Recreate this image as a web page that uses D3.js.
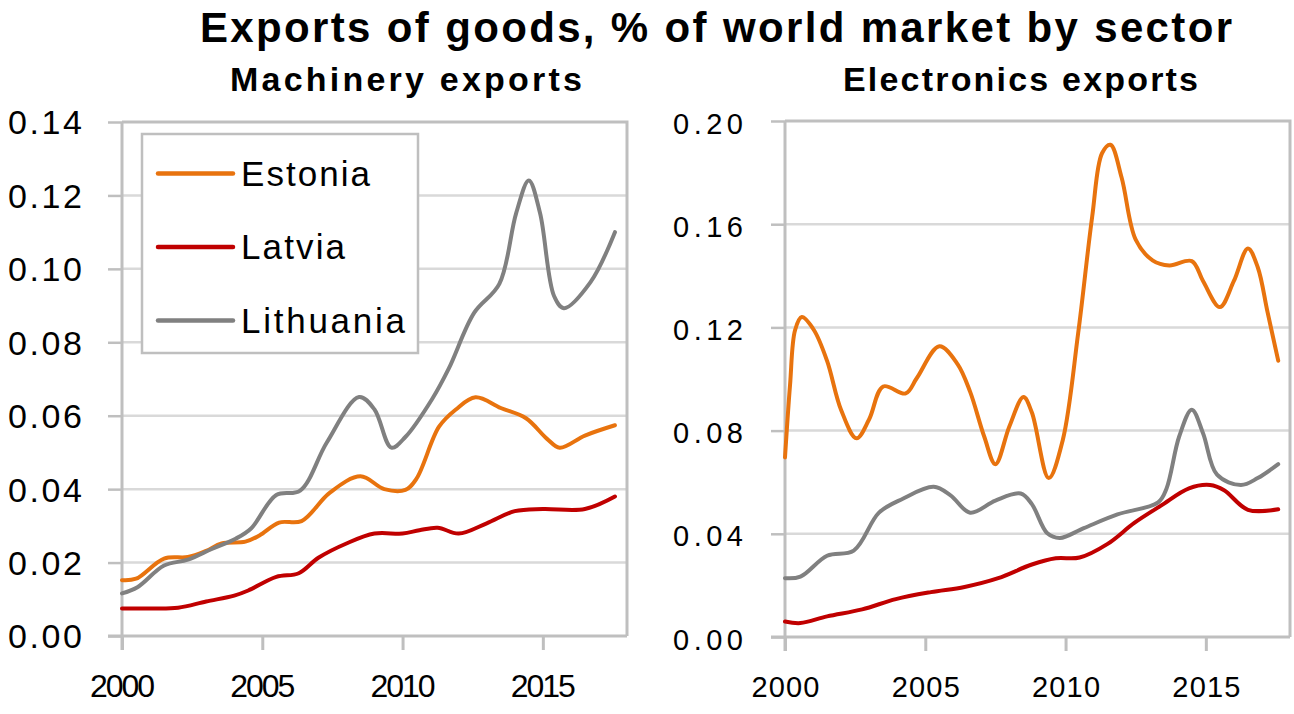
<!DOCTYPE html>
<html>
<head>
<meta charset="utf-8">
<script src="https://cdn.jsdelivr.net/npm/d3@7"></script>
<style>
  html, body { margin: 0; padding: 0; background: #fff; }
  svg { display: block; font-family: "Liberation Sans", Arial, sans-serif; }
</style>
</head>
<body>
<svg id="chart" width="1294" height="714"></svg>
<script>
// ---------------- DATA ----------------
const seriesNames = ["Estonia", "Latvia", "Lithuania"];
const seriesColors = ["#E8730E", "#C00000", "#808080"];

const xTickYears = [2000, 2005, 2010, 2015];
const machineryTicks = [0, 0.02, 0.04, 0.06, 0.08, 0.10, 0.12, 0.14];
const electronicsTicks = [0, 0.04, 0.08, 0.12, 0.16, 0.20];

// Machinery exports, % of world market
const machEstonia = [[2000,0.0152],[2000.5,0.0156],[2001.5,0.0211],[2002.35,0.0215],[2003,0.0232],[2003.55,0.0252],
  [2004.4,0.0257],[2004.9,0.0274],[2005.6,0.0309],[2006.4,0.0313],[2007.4,0.0390],[2008.5,0.0435],[2009.35,0.0400],
  [2010.1,0.0398],[2010.5,0.0429],[2011.3,0.0570],[2011.9,0.0617],[2012.6,0.0650],[2013.5,0.0621],[2014.4,0.0593],
  [2015.15,0.0537],[2015.6,0.0513],[2016.5,0.0546],[2017.57,0.0574]];
const machLatvia = [[2000,0.0075],[2001,0.0075],[2002,0.0077],[2003,0.0094],[2004,0.0110],[2004.5,0.0124],
  [2005.5,0.0161],[2006.3,0.0171],[2007,0.0213],[2008,0.0252],[2009,0.0279],[2010,0.0279],[2010.6,0.0288],
  [2011.25,0.0295],[2012,0.0279],[2013,0.0307],[2014,0.0340],[2015,0.0346],[2016.5,0.0346],[2017.57,0.0380]];
const machLithuania = [[2000,0.0116],[2000.55,0.0133],[2001.5,0.0192],[2002.35,0.0208],[2003.2,0.0237],[2004.05,0.0265],
  [2004.6,0.0293],[2005.5,0.0384],[2006.35,0.0396],[2007.3,0.0527],[2008.45,0.0651],[2009.0,0.0617],[2009.6,0.0513],
  [2010.1,0.0542],[2011.05,0.0645],[2011.65,0.0729],[2012.55,0.0880],[2013.45,0.0959],[2014.05,0.1152],[2014.5,0.1241],
  [2014.9,0.1152],[2015.4,0.0926],[2015.75,0.0893],[2016.7,0.0964],[2017.57,0.1100]];

// Electronics exports, % of world market
const elecEstonia = [[2000,0.0696],[2000.18,0.0977],[2000.36,0.1190],[2000.6,0.1240],[2001.03,0.1190],[2001.5,0.1070],
  [2002.0,0.0880],[2002.55,0.0770],[2003,0.0844],[2003.5,0.0971],[2004.3,0.0944],[2004.7,0.1004],[2005.5,0.1127],
  [2006.15,0.1058],[2006.6,0.0950],[2007.1,0.0777],[2007.5,0.0670],[2008,0.0817],[2008.5,0.0930],[2008.8,0.0870],
  [2009.4,0.0616],[2009.9,0.0763],[2010.45,0.1178],[2010.95,0.1630],[2011.3,0.1875],[2011.6,0.1908],[2012,0.1780],
  [2012.5,0.1540],[2013.1,0.1460],[2013.7,0.1440],[2014.5,0.1457],[2014.9,0.1380],[2015.5,0.1279],[2016,0.1380],
  [2016.5,0.1506],[2016.85,0.1433],[2017.2,0.1259],[2017.58,0.1071]];
const elecLatvia = [[2000,0.0060],[2000.55,0.0054],[2001.5,0.0080],[2002.75,0.0107],[2003.95,0.0147],[2005.2,0.0174],
  [2006.4,0.0194],[2007.6,0.0228],[2008.8,0.0281],[2009.65,0.0305],[2010.5,0.0308],[2011.5,0.0361],[2012.45,0.0442],
  [2013.4,0.0509],[2014.4,0.0576],[2015.15,0.0589],[2015.65,0.0569],[2016.5,0.0493],[2017.58,0.0495]];
const elecLithuania = [[2000,0.0228],[2000.55,0.0234],[2001.5,0.0315],[2002.45,0.0335],[2003.35,0.0482],[2004.2,0.0536],
  [2005.3,0.0582],[2005.9,0.0549],[2006.6,0.0482],[2007.5,0.0529],[2008.4,0.0556],[2008.8,0.0515],[2009.35,0.0402],
  [2009.8,0.0384],[2010.65,0.0422],[2011.85,0.0475],[2013.3,0.0522],[2013.6,0.0576],[2014.05,0.0777],[2014.5,0.0881],
  [2014.9,0.0790],[2015.4,0.0629],[2016.25,0.0589],[2016.85,0.0616],[2017.58,0.0670]];

// ---------------- DRAW ----------------
const svg = d3.select("#chart");
const axisColor = "#BFBFBF";
const gridColor = "#D9D9D9";

svg.append("text").attr("x", 200).attr("y", 42)
  .attr("font-size", 42).attr("font-weight", "bold").attr("fill", "#000")
  .attr("textLength", 1032).attr("lengthAdjust", "spacing")
  .text("Exports of goods, % of world market by sector");

function panel(cfg) {
  const x = d3.scaleLinear().domain([2000, 2018]).range([cfg.left, cfg.right]);
  const y = d3.scaleLinear().domain([0, cfg.yMax]).range([cfg.bottom, cfg.top]);
  const g = svg.append("g");

  // subtitle
  g.append("text").attr("x", cfg.titleX).attr("y", 91)
    .attr("font-size", 34).attr("font-weight", "bold")
    .attr("textLength", cfg.titleLen).attr("lengthAdjust", "spacing")
    .text(cfg.title);

  // gridlines
  g.append("g").selectAll("line").data(cfg.ticks.filter(t => t > 0 && t < cfg.yMax))
    .join("line")
    .attr("x1", cfg.left).attr("x2", cfg.right)
    .attr("y1", d => y(d)).attr("y2", d => y(d))
    .attr("stroke", gridColor).attr("stroke-width", 2.5);

  // y axis
  const yAxis = d3.axisLeft(y).tickValues(cfg.ticks).tickFormat(d3.format(".2f"))
    .tickSize(14).tickPadding(cfg.yPad);
  const ya = g.append("g").attr("transform", `translate(${cfg.left},0)`).call(yAxis);
  ya.select(".domain").remove();
  ya.selectAll(".tick line").attr("stroke", axisColor).attr("stroke-width", 2.5);
  ya.selectAll(".tick text").attr("font-size", cfg.yFont).attr("fill", "#000")
    .attr("font-family", "'Liberation Sans', Arial, sans-serif")
    .attr("dy", cfg.yDy)
    .attr("textLength", cfg.yLen).attr("lengthAdjust", "spacing");

  // x axis
  const xAxis = d3.axisBottom(x).tickValues(xTickYears).tickFormat(d3.format("d"))
    .tickSize(14).tickPadding(cfg.xPad);
  const xa = g.append("g").attr("transform", `translate(0,${cfg.bottom})`).call(xAxis);
  xa.select(".domain").remove();
  xa.selectAll(".tick line").attr("stroke", axisColor).attr("stroke-width", 3);
  xa.selectAll(".tick text").attr("font-size", cfg.xFont).attr("fill", "#000")
    .attr("font-family", "'Liberation Sans', Arial, sans-serif")
    .attr("textLength", cfg.xLen).attr("lengthAdjust", "spacing");

  // frame: axis lines and plot border
  g.append("line").attr("x1", cfg.left - 14).attr("x2", cfg.right)
    .attr("y1", cfg.bottom).attr("y2", cfg.bottom)
    .attr("stroke", axisColor).attr("stroke-width", 3);
  g.append("line").attr("x1", cfg.left).attr("x2", cfg.left)
    .attr("y1", cfg.top).attr("y2", cfg.bottom + 14)
    .attr("stroke", axisColor).attr("stroke-width", 3);
  g.append("polyline")
    .attr("points", `${cfg.left},${cfg.top} ${cfg.right},${cfg.top} ${cfg.right},${cfg.bottom}`)
    .attr("fill", "none").attr("stroke", axisColor).attr("stroke-width", 3);

  // lines
  const line = d3.line().x(d => x(d[0])).y(d => y(d[1])).curve(d3.curveCatmullRom.alpha(0.5));
  cfg.series.forEach((s, i) => {
    g.append("path").datum(s).attr("d", line)
      .attr("fill", "none").attr("stroke", seriesColors[i])
      .attr("stroke-width", 4).attr("stroke-linejoin", "round").attr("stroke-linecap", "round");
  });
  return g;
}

panel({
  left: 122, right: 627, top: 122, bottom: 636, yMax: 0.14,
  ticks: machineryTicks, title: "Machinery exports", titleX: 230, titleLen: 352,
  yFont: 34, yPad: 26, yDy: "0.35em", yLen: 74,
  xFont: 32, xPad: 24, xLen: 65,
  series: [machEstonia, machLatvia, machLithuania]
});

panel({
  left: 785, right: 1290, top: 121, bottom: 637, yMax: 0.20,
  ticks: electronicsTicks, title: "Electronics exports", titleX: 843, titleLen: 355,
  yFont: 29, yPad: 28, yDy: "0.42em", yLen: 70,
  xFont: 29, xPad: 25, xLen: 68,
  series: [elecEstonia, elecLatvia, elecLithuania]
});

// legend
const lg = svg.append("g");
lg.append("rect").attr("x", 142).attr("y", 134).attr("width", 276).attr("height", 219)
  .attr("fill", "#fff").attr("stroke", axisColor).attr("stroke-width", 2.5);
const legY = [173.5, 247, 320.5];
const legLen = [129, 104, 164];
seriesNames.forEach((n, i) => {
  lg.append("line").attr("x1", 158).attr("x2", 233).attr("y1", legY[i]).attr("y2", legY[i])
    .attr("stroke", seriesColors[i]).attr("stroke-width", 4.5).attr("stroke-linecap", "round");
  lg.append("text").attr("x", 241).attr("y", legY[i] + 12)
    .attr("font-size", 35).attr("fill", "#000")
    .attr("textLength", legLen[i]).attr("lengthAdjust", "spacing")
    .text(n);
});
</script>
</body>
</html>
